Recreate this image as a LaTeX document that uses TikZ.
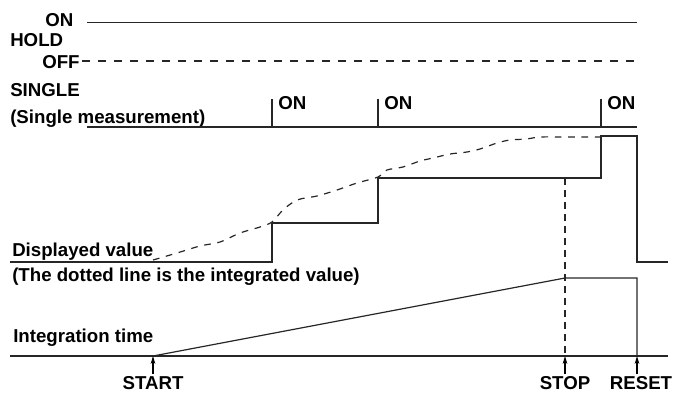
\documentclass[tikz,border=0pt]{standalone}
\usepackage{fontspec}
\setmainfont{Liberation Sans}
\usetikzlibrary{arrows.meta,positioning}

\begin{document}
\begin{tikzpicture}[x=0.75pt,y=-0.75pt,
  lbl/.style={inner sep=0pt,anchor=base west,font=\fontsize{14}{16}\selectfont\bfseries},
  sig/.style={line width=0.9pt,draw=black!85},
  dsig/.style={sig,dash pattern=on 6pt off 6pt},
  arr/.style={line width=0.8pt,-{Stealth[length=6pt,width=3.5pt]}}]
\useasboundingbox (0,0) rectangle (673,392);

% HOLD
\node[lbl] (on) at (45,26.5) {ON};
\node[lbl] (hold) at (10,47) {HOLD};
\node[lbl] (off) at (42,68.5) {OFF};
\draw[sig] (87,22.5) -- (637,22.5);
\draw[dsig] (82,61) -- (637,61);

% SINGLE
\node[lbl] (single) at (10,97) {SINGLE};
\node[lbl] (singlesub) at (10,123) {(Single measurement)};
\draw[sig] (87,127) -- (637,127);
\foreach \x/\n in {272/1,378/2,601/3}{
  \draw[sig] (\x,99) -- (\x,127);
  \node[lbl] (on\n) at (\x+6,110) {ON};
}

% Displayed value
\node[lbl] (disp) at (12,256) {Displayed value};
\node[lbl] (dispsub) at (12,281) {(The dotted line is the integrated value)};
\draw[sig] (10,262) -| (272,223) -| (378,178) -| (601,136) -| (637,262) -- (668,262);
\draw[sig,dash pattern=on 5pt off 5pt] plot[smooth,tension=0.5] coordinates {
  (153,260) (177,253) (200,246) (220,242) (240,233) (260,227) (272,222)
  (283,210) (297,200) (317,196) (337,190) (357,183) (378,177)
  (387,170) (403,167) (420,161) (433,158) (450,154) (467,152) (480,149)
  (497,143) (510,140) (527,139) (540,137) (570,137) (601,137)};

% Integration time
\node[lbl] (integ) at (13,342.5) {Integration time};
\coordinate (tstart) at (153,356);
\coordinate (tstop) at (565,356);
\coordinate (treset) at (637,356);
\draw[sig] (10,356) -- (668,356);
\draw[sig] (tstart) -- (565,278) -- (637,278) -- (treset);
\draw[sig,dash pattern=on 5pt off 4pt] (565,178) -- (tstop);

% START / STOP / RESET
\node[lbl,anchor=base] (start) at (153,389) {START};
\node[lbl,anchor=base] (stop) at (565,389) {STOP};
\node[lbl,anchor=base] (reset) at (641,389) {RESET};
\draw[arr] (start.north) ++(0,-2) -- (tstart);
\draw[arr] (stop.north) ++(0,-2) -- (tstop);
\draw[arr] (reset.north -| treset) ++(0,-2) -- (treset);
\end{tikzpicture}
\end{document}
